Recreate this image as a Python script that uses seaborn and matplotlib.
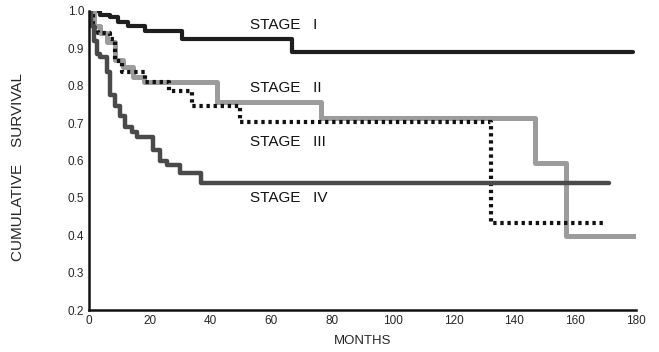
import matplotlib
matplotlib.use('Agg')
import matplotlib.pyplot as plt
import pandas as pd
import seaborn as sns

sns.set_style('white')
plt.rcParams['font.family'] = ['Liberation Sans', 'DejaVu Sans']

# survival curves (months, cumulative survival), step-post
stage1_t = [0, 3.6, 6.9, 9.6, 12.9, 18.4, 30.5, 66.7, 179]
stage1_s = [1.0, 0.99, 0.983, 0.97, 0.96, 0.945, 0.924, 0.889, 0.889]

stage2_t = [0, 1.5, 3.6, 5.8, 8.6, 11.3, 14.6, 18, 42, 76.5, 146.7, 157, 179.6]
stage2_s = [1.0, 0.96, 0.94, 0.918, 0.869, 0.85, 0.824, 0.811, 0.756, 0.713, 0.593, 0.397, 0.397]

stage3_t = [0, 1.4, 3, 6.9, 8.6, 10.8, 18.6, 26.2, 33.8, 49.7, 132.4, 169]
stage3_s = [1.0, 0.955, 0.94, 0.924, 0.865, 0.838, 0.81, 0.787, 0.745, 0.704, 0.433, 0.433]

stage4_t = [0, 0.8, 1.6, 2.5, 3.6, 5.8, 6.9, 8.6, 10.2, 11.8, 14, 15.7, 21.2, 23.4, 25.6, 30, 37, 171]
stage4_s = [1.0, 0.96, 0.92, 0.885, 0.878, 0.838, 0.775, 0.745, 0.72, 0.69, 0.675, 0.664, 0.628, 0.6, 0.588, 0.567, 0.539, 0.539]

stages = ['STAGE   I', 'STAGE   II', 'STAGE   III', 'STAGE   IV']
label_pos = [(53, 0.963), (53, 0.794), (53, 0.65), (53, 0.50)]

fig = plt.figure(figsize=(6.59, 3.52), dpi=100)
ax = fig.add_axes([0.135, 0.119, 0.83, 0.85])

curves = [
    (stage1_t, stage1_s, dict(color='#1e1e1e', lw=3.0, ls='-')),
    (stage2_t, stage2_s, dict(color='#9c9c9c', lw=3.6, ls='-')),
    (stage3_t, stage3_s, dict(color='#111111', lw=3.0, ls=(0, (0.8, 0.9)))),
    (stage4_t, stage4_s, dict(color='#4a4a4a', lw=3.2, ls='-')),
]
for name, (t, s, st) in zip(stages, curves):
    df = pd.DataFrame({'Months': t, 'Survival': s})
    sns.lineplot(data=df, x='Months', y='Survival', ax=ax, drawstyle='steps-post',
                 estimator=None, sort=False, color=st['color'], linewidth=st['lw'],
                 linestyle=st['ls'])

for name, (x, y) in zip(stages, label_pos):
    ax.text(x, y, name, fontsize=11, ha='left', va='center', color='#111111')

ax.set_xlim(0, 180)
ax.set_ylim(0.2, 1.0)
ax.set_xticks(range(0, 181, 20))
ax.set_yticks([0.2, 0.3, 0.4, 0.5, 0.6, 0.7, 0.8, 0.9, 1.0])
ax.set_yticklabels(['0.2', '0.3', '0.4', '0.5', '0.6', '0.7', '0.8', '0.9', '1.0'])
ax.tick_params(axis='both', direction='inout', length=5, width=1.5, labelsize=8.5, pad=1)
ax.set_xlabel('MONTHS', fontsize=9.5, labelpad=6)
ax.set_ylabel('CUMULATIVE    SURVIVAL', fontsize=11)
ax.yaxis.set_label_coords(-0.117, 0.478)
sns.despine(ax=ax)
for sp in ['left', 'bottom']:
    ax.spines[sp].set_linewidth(1.8)
    ax.spines[sp].set_color('#111111')

fig.savefig('out.png', dpi=100)
